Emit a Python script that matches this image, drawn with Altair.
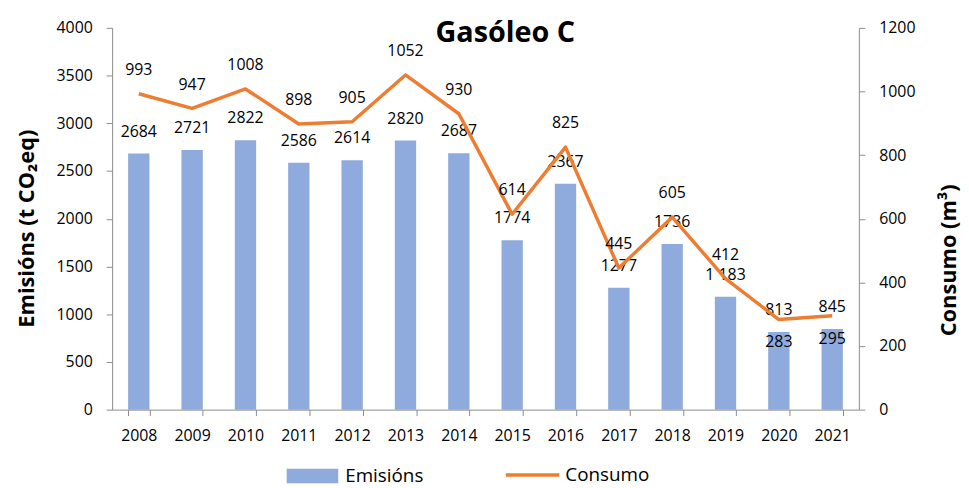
import altair as alt
import pandas as pd

years = [str(y) for y in range(2008, 2022)]
emisions = [2684, 2721, 2822, 2586, 2614, 2820, 2687, 1774, 2367, 1277, 1736, 1183, 813, 845]
emision_labels = ["2684", "2721", "2822", "2586", "2614", "2820", "2687", "1774",
                  "2367", "1277", "1736", "1 183", "813", "845"]
consumo = [993, 947, 1008, 898, 905, 1052, 930, 614, 825, 445, 605, 412, 283, 295]
left_ticks = [0, 500, 1000, 1500, 2000, 2500, 3000, 3500, 4000]
right_ticks = [0, 200, 400, 600, 800, 1000, 1200]

df = pd.DataFrame({
    "year": years,
    "emis": emisions,
    "emis_label": emision_labels,
    "cons": consumo,
})

FONT = "Open Sans"
BLUE = "#8FAADC"
ORANGE = "#ED7D31"
GREY = "#8C8C8C"

base = alt.Chart(df).transform_calculate(s1="'Emisións'", s2="'Consumo'")

x = alt.X("year:N", sort=years, title=None,
          scale=alt.Scale(paddingInner=0.6, paddingOuter=0.3),
          axis=alt.Axis(tickBand="extent", labelAngle=0, labelPadding=12, tickSize=6))

y_left = alt.Y("emis:Q", scale=alt.Scale(domain=[0, 4000], nice=False),
               axis=alt.Axis(values=left_ticks, format="d", title="Emisións (t CO₂eq)",
                             orient="left", titleX=-86, titleY=202, titleAngle=270,
                             titleBaseline="middle", titleAlign="center",
                             labelPadding=14, tickSize=6))
y_right = alt.Y("cons:Q", scale=alt.Scale(domain=[0, 1200], nice=False),
                axis=alt.Axis(values=right_ticks, format="d", title="Consumo (m³)",
                              orient="right", titleX=90, titleY=234, titleAngle=270,
                              titleBaseline="middle", titleAlign="center",
                              labelPadding=14, tickSize=6))

bars = base.mark_bar().encode(
    x=x, y=y_left,
    color=alt.Color("s1:N", scale=alt.Scale(domain=["Emisións"], range=[BLUE]),
                    legend=alt.Legend(title=None, orient="none", legendX=176, legendY=426,
                                      symbolType="M-1,-0.28H1V0.28H-1Z", symbolSize=2704,
                                      symbolStrokeWidth=0, labelOffset=7,
                                      labelFont=FONT, labelFontSize=19, labelColor="black")),
)
bar_text = base.mark_text(dy=-17, baseline="alphabetic", font=FONT, fontSize=16,
                          color="black").encode(x=x, y=y_left, text="emis_label:N")

line = base.mark_line(strokeWidth=3.5, strokeJoin="round").encode(
    x=x, y=y_right,
    stroke=alt.Stroke("s2:N", scale=alt.Scale(domain=["Consumo"], range=[ORANGE]),
                      legend=alt.Legend(title=None, orient="none", legendX=395, legendY=422,
                                        symbolType="stroke", symbolSize=2916,
                                        symbolStrokeWidth=3.5, labelOffset=4,
                                        labelFont=FONT, labelFontSize=19, labelColor="black")),
)
line_text_above = base.transform_filter("toNumber(datum.year) < 2020").mark_text(
    dy=-19, baseline="alphabetic", font=FONT, fontSize=16, color="black"
).encode(x=x, y=y_right, text="cons:Q")
line_text_below = base.transform_filter("toNumber(datum.year) >= 2020").mark_text(
    dy=28, baseline="alphabetic", font=FONT, fontSize=16, color="black"
).encode(x=x, y=y_right, text="cons:Q")

left = alt.layer(bars, bar_text)
right = alt.layer(line, line_text_above, line_text_below)

chart = alt.layer(left, right).resolve_scale(y="independent").properties(
    width=753, height=385,
    autosize=alt.AutoSizeParams(type="none"),
    padding={"left": 105, "top": 18, "right": 103, "bottom": 77},
    title=alt.TitleParams("Gasóleo C", font=FONT, fontSize=29, fontWeight="bold",
                          anchor="middle", baseline="bottom", offset=-57, dx=20,
                          color="black", frame="group"),
).configure_view(stroke=None).configure_axis(
    domainColor=GREY, tickColor=GREY, labelFont=FONT, labelFontSize=16, labelColor="black",
    titleFont=FONT, titleFontSize=22, titleFontWeight="bold", titleColor="black", grid=False,
)

chart.save("out.html", embed_options={"renderer": "svg", "actions": False})
